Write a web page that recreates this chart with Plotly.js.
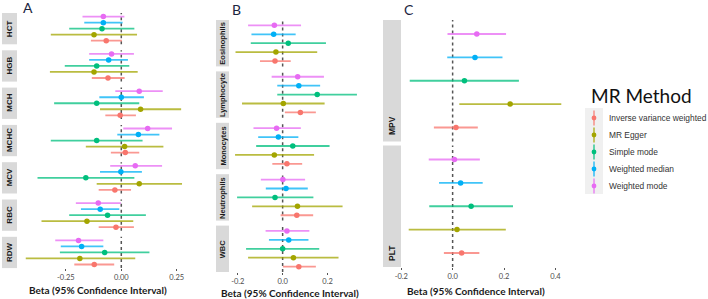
<!DOCTYPE html>
<html>
<head>
<meta charset="utf-8">
<script src="https://cdn.plot.ly/plotly-3.0.1.min.js"></script>
<style>
  html, body { margin: 0; padding: 0; background: #ffffff; }
  #chart { width: 708px; height: 299px; }
</style>
</head>
<body>
<div id="chart"></div>
<script>
// Mendelian randomisation estimates for blood-cell traits, five MR methods.
// Every value array below follows the method order in `methods`.
const methods = ['Inverse variance weighted', 'MR Egger', 'Simple mode', 'Weighted median', 'Weighted mode'];

const traitsA = ['HCT', 'HGB', 'MCH', 'MCHC', 'MCV', 'RBC', 'RDW'];
const traitsB = ['Eosinophils', 'Lymphocyte', 'Monocytes', 'Neutrophils', 'WBC'];
const traitsC = ['MPV', 'PLT'];

// Panel A: red-cell traits
const HCT_beta  = [-0.068, -0.123, -0.087, -0.081, -0.081];
const HCT_lower = [-0.137, -0.318, -0.235, -0.167, -0.175];
const HCT_upper = [ 0.003,  0.071,  0.059,  0.006,  0.014];

const HGB_beta  = [-0.060, -0.123, -0.111, -0.057, -0.044];
const HGB_lower = [-0.133, -0.322, -0.255, -0.145, -0.145];
const HGB_upper = [ 0.015,  0.074,  0.036,  0.030,  0.057];

const MCH_beta  = [-0.005,  0.087, -0.111,  0.000,  0.081];
const MCH_lower = [-0.072, -0.096, -0.303, -0.099, -0.027];
const MCH_upper = [ 0.066,  0.270,  0.081,  0.102,  0.187];

const MCHC_beta  = [ 0.018,  0.015, -0.111,  0.077,  0.119];
const MCHC_lower = [-0.047, -0.160, -0.318, -0.018,  0.009];
const MCHC_upper = [ 0.081,  0.190,  0.096,  0.172,  0.229];

const MCV_beta  = [-0.029,  0.081, -0.160, -0.002,  0.063];
const MCV_lower = [-0.102, -0.111, -0.378, -0.096, -0.050];
const MCV_upper = [ 0.044,  0.274,  0.059,  0.093,  0.184];

const RBC_beta  = [-0.024, -0.155, -0.062, -0.095, -0.104];
const RBC_lower = [-0.102, -0.360, -0.235, -0.182, -0.205];
const RBC_upper = [ 0.057,  0.054,  0.111, -0.009, -0.002];

const RDW_beta  = [-0.122, -0.187, -0.075, -0.179, -0.193];
const RDW_lower = [-0.212, -0.431, -0.277, -0.273, -0.298];
const RDW_upper = [-0.032,  0.063,  0.127, -0.081, -0.081];

// Panel B: white-cell traits
const Eosinophils_beta  = [-0.034, -0.030,  0.025, -0.040, -0.037];
const Eosinophils_lower = [-0.101, -0.210, -0.142, -0.139, -0.154];
const Eosinophils_upper = [ 0.036,  0.154,  0.193,  0.058,  0.082];

const Lymphocyte_beta  = [ 0.079,  0.003,  0.154,  0.072,  0.067];
const Lymphocyte_lower = [ 0.010, -0.181, -0.024, -0.024, -0.049];
const Lymphocyte_upper = [ 0.148,  0.187,  0.331,  0.167,  0.184];

const Monocytes_beta  = [ 0.019, -0.037,  0.045, -0.019, -0.027];
const Monocytes_lower = [-0.046, -0.212, -0.118, -0.109, -0.130];
const Monocytes_upper = [ 0.087,  0.140,  0.209,  0.070,  0.081];

const Neutrophils_beta  = [ 0.063,  0.066, -0.034,  0.015,  0.001];
const Neutrophils_lower = [-0.009, -0.136, -0.203, -0.075, -0.097];
const Neutrophils_upper = [ 0.136,  0.267,  0.137,  0.112,  0.100];

const WBC_beta  = [ 0.072,  0.048,  0.000,  0.027,  0.019];
const WBC_lower = [ 0.001, -0.154, -0.163, -0.061, -0.076];
const WBC_upper = [ 0.148,  0.249,  0.163,  0.115,  0.119];

// Panel C: platelet traits
const MPV_beta  = [ 0.013,  0.224,  0.046,  0.087,  0.094];
const MPV_lower = [-0.073,  0.026, -0.167, -0.021, -0.020];
const MPV_upper = [ 0.098,  0.423,  0.258,  0.194,  0.208];

const PLT_beta  = [ 0.035,  0.017,  0.072,  0.031,  0.007];
const PLT_lower = [-0.034, -0.171, -0.091, -0.053, -0.093];
const PLT_upper = [ 0.104,  0.207,  0.235,  0.117,  0.106];

const ticksA = [-0.25, 0, 0.25];
const tickTextA = ['-0.25', '0.00', '0.25'];
const ticksB = [-0.2, 0, 0.2];
const tickTextB = ['-0.2', '0.0', '0.2'];
const ticksC = [-0.2, 0, 0.2, 0.4];
const tickTextC = ['-0.2', '0.0', '0.2', '0.4'];

const axisTitle = 'Beta (95% Confidence Interval)';
const legendTitle = 'MR Method';

// lookup table built from the arrays above
const estimates = {
  HCT: [HCT_beta, HCT_lower, HCT_upper],
  HGB: [HGB_beta, HGB_lower, HGB_upper],
  MCH: [MCH_beta, MCH_lower, MCH_upper],
  MCHC: [MCHC_beta, MCHC_lower, MCHC_upper],
  MCV: [MCV_beta, MCV_lower, MCV_upper],
  RBC: [RBC_beta, RBC_lower, RBC_upper],
  RDW: [RDW_beta, RDW_lower, RDW_upper],
  Eosinophils: [Eosinophils_beta, Eosinophils_lower, Eosinophils_upper],
  Lymphocyte: [Lymphocyte_beta, Lymphocyte_lower, Lymphocyte_upper],
  Monocytes: [Monocytes_beta, Monocytes_lower, Monocytes_upper],
  Neutrophils: [Neutrophils_beta, Neutrophils_lower, Neutrophils_upper],
  WBC: [WBC_beta, WBC_lower, WBC_upper],
  MPV: [MPV_beta, MPV_lower, MPV_upper],
  PLT: [PLT_beta, PLT_lower, PLT_upper]
};

// ---- styling ----
const W = 708, H = 299;
const methodColors = ['#F8766D', '#A3A500', '#00BF7D', '#00B0F6', '#E76BF3'];
const barColors = ['rgba(248,118,109,0.75)', 'rgba(163,165,0,0.75)', 'rgba(0,191,125,0.75)',
                   'rgba(0,176,246,0.75)', 'rgba(231,107,243,0.75)'];
const TITLE_FONT = 'Lato, "Open Sans", sans-serif';
const STRIP_FONT = '"Liberation Sans", Arial, sans-serif';

const px = v => v / W;          // horizontal pixel -> paper
const py = v => 1 - v / H;      // vertical pixel -> paper

const panels = [
  { letter: 'A', traits: traitsA, ticks: ticksA, tickText: tickTextA, range: [-0.466, 0.31],
    plotX: [18, 190], stripX: [2, 17], top: 13, facetH: 31.3, gap: 6, stripSize: 8,
    stripBottom: false, letterAt: [28.5, 8], titleAt: [98, 290] },
  { letter: 'B', traits: traitsB, ticks: ticksB, tickText: tickTextB, range: [-0.239, 0.358],
    plotX: [229, 363], stripX: [216, 229], top: 20, facetH: 46.4, gap: 5, stripSize: 7.5,
    stripBottom: false, letterAt: [236.5, 10], titleAt: [289.5, 293] },
  { letter: 'C', traits: traitsC, ticks: ticksC, tickText: tickTextC, range: [-0.201, 0.453],
    plotX: [401, 569], stripX: [383, 401], top: 20, facetH: 121.5, gap: 4, stripSize: 8.5,
    stripBottom: true, letterAt: [409, 10], titleAt: [476, 291] }
];

const traces = [];
const shapes = [];
const annotations = [];
const layout = {
  width: W, height: H,
  margin: { l: 0, r: 0, t: 0, b: 0 },
  paper_bgcolor: '#ffffff', plot_bgcolor: '#ffffff',
  showlegend: false,
  font: { family: TITLE_FONT, color: '#333333' }
};

let yIndex = 0;
panels.forEach((p, pi) => {
  const xName = pi === 0 ? 'x' : 'x' + (pi + 1);
  const xKey = pi === 0 ? 'xaxis' : 'xaxis' + (pi + 1);
  const lastY = yIndex + p.traits.length;

  layout[xKey] = {
    domain: [px(p.plotX[0]), px(p.plotX[1])],
    anchor: 'y' + (lastY === 1 ? '' : lastY),
    range: p.range,
    tickvals: p.ticks, ticktext: p.tickText,
    ticks: 'outside', ticklen: 2, tickwidth: 1, tickcolor: '#555555',
    tickfont: { family: TITLE_FONT, size: 7.5, color: '#4D4D4D' },
    showgrid: false, zeroline: false, showline: false, fixedrange: true
  };

  p.traits.forEach((trait, ti) => {
    yIndex += 1;
    const yName = yIndex === 1 ? 'y' : 'y' + yIndex;
    const yKey = yIndex === 1 ? 'yaxis' : 'yaxis' + yIndex;
    const topPx = p.top + ti * (p.facetH + p.gap);
    const botPx = topPx + p.facetH;

    layout[yKey] = {
      domain: [py(botPx), py(topPx)],
      anchor: xName,
      type: 'category', categoryorder: 'array', categoryarray: methods,
      range: [-0.6, methods.length - 0.4],
      showticklabels: false, ticks: '', showgrid: false, zeroline: false,
      showline: false, fixedrange: true
    };

    const [beta, lower, upper] = estimates[trait];
    methods.forEach((m, mi) => {
      traces.push({
        type: 'scatter', mode: 'markers',
        x: [beta[mi]], y: [m],
        xaxis: xName, yaxis: yName,
        name: m,
        marker: { color: methodColors[mi], size: 5.5 },
        error_x: {
          type: 'data', symmetric: false,
          array: [upper[mi] - beta[mi]],
          arrayminus: [beta[mi] - lower[mi]],
          color: barColors[mi], thickness: 1.8, width: 0
        },
        hovertemplate: trait + '<br>' + m + ': %{x:.3f}<extra></extra>'
      });
    });

    // dotted null line
    shapes.push({
      type: 'line', xref: xName, yref: yName + ' domain',
      x0: 0, x1: 0, y0: 0, y1: 1,
      line: { color: '#555555', width: 1.5, dash: 'dot' }, layer: 'below'
    });

    // facet strip
    shapes.push({
      type: 'rect', xref: 'paper', yref: yName + ' domain',
      x0: px(p.stripX[0]), x1: px(p.stripX[1]), y0: 0, y1: 1,
      fillcolor: '#D9D9D9', line: { width: 0 }, layer: 'below'
    });
    annotations.push({
      xref: 'paper', yref: yName + ' domain',
      x: px((p.stripX[0] + p.stripX[1]) / 2),
      y: p.stripBottom ? 0 : 0.5,
      yshift: p.stripBottom ? 4 : 0,
      xanchor: 'center', yanchor: p.stripBottom ? 'bottom' : 'middle',
      text: '<b>' + trait + '</b>', textangle: -90, showarrow: false,
      font: { family: STRIP_FONT, size: p.stripSize, color: '#1A1A1A' }
    });
  });

  // panel letter
  annotations.push({
    xref: 'paper', yref: 'paper', x: px(p.letterAt[0]), y: py(p.letterAt[1]),
    xanchor: 'center', yanchor: 'middle', showarrow: false,
    text: p.letter, font: { family: TITLE_FONT, size: 14, color: '#1B2440' }
  });
  // x-axis title
  annotations.push({
    xref: 'paper', yref: 'paper', x: px(p.titleAt[0]), y: py(p.titleAt[1]),
    xanchor: 'center', yanchor: 'middle', showarrow: false,
    text: '<b>' + axisTitle + '</b>',
    font: { family: TITLE_FONT, size: 10, color: '#1A1A1A' }
  });
});

// ---- legend (drawn in paper space) ----
annotations.push({
  xref: 'paper', yref: 'paper', x: px(589), y: py(95),
  xanchor: 'left', yanchor: 'middle', showarrow: false,
  text: legendTitle, font: { family: TITLE_FONT, size: 19, color: '#111111' }
});
shapes.push({
  type: 'rect', xref: 'paper', yref: 'paper',
  x0: px(585), x1: px(603), y0: py(194), y1: py(108),
  fillcolor: '#F0F0F0', line: { width: 0 }
});
methods.forEach((m, mi) => {
  const cy = 118 + mi * 17;
  shapes.push({
    type: 'line', xref: 'paper', yref: 'paper',
    x0: px(594), x1: px(594), y0: py(cy - 7.5), y1: py(cy + 7.5),
    line: { color: barColors[mi], width: 1.6 }
  });
  shapes.push({
    type: 'circle', xref: 'paper', yref: 'paper',
    x0: px(591.6), x1: px(596.4), y0: py(cy + 2.4), y1: py(cy - 2.4),
    fillcolor: methodColors[mi], line: { width: 0 }
  });
  annotations.push({
    xref: 'paper', yref: 'paper', x: px(607), y: py(cy),
    xanchor: 'left', yanchor: 'middle', showarrow: false,
    text: m, font: { family: STRIP_FONT, size: 8.4, color: '#333333' }
  });
});

layout.shapes = shapes;
layout.annotations = annotations;

Plotly.newPlot('chart', traces, layout, { displayModeBar: false, staticPlot: true });
</script>
</body>
</html>
